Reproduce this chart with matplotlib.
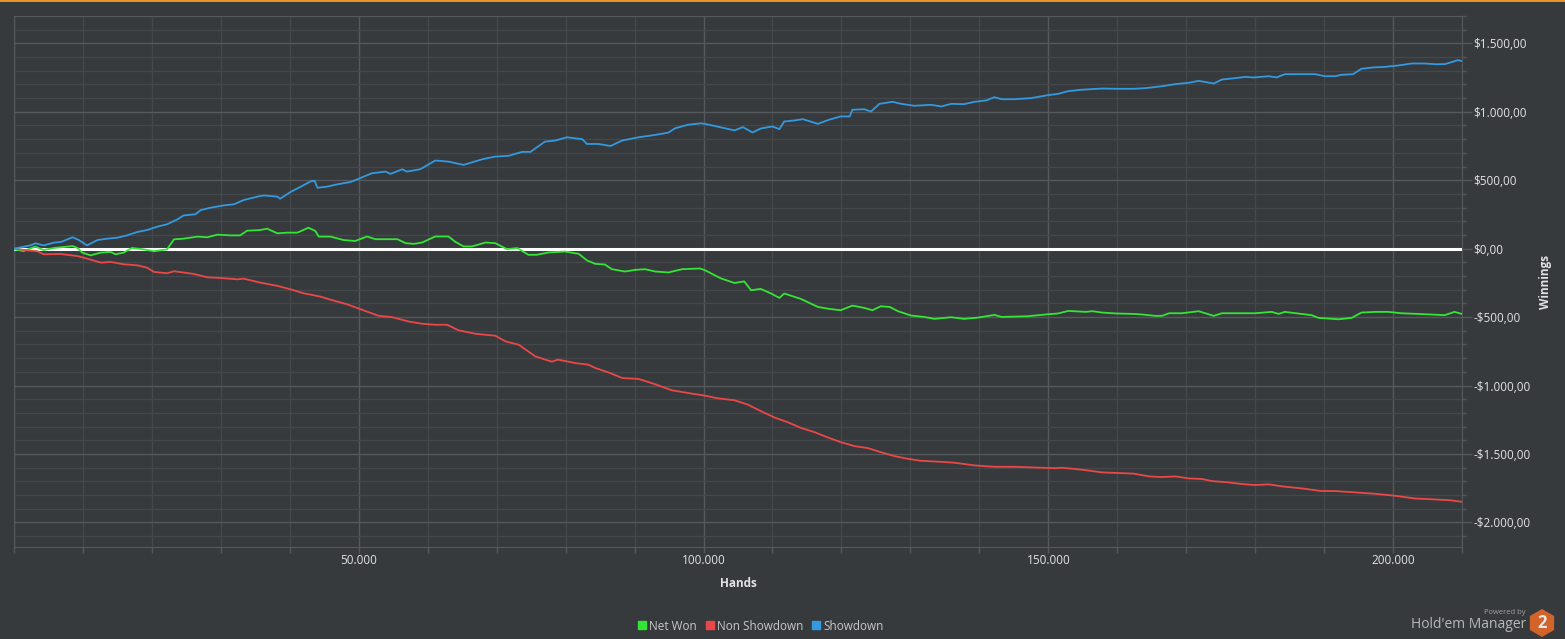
import numpy as np
import matplotlib.pyplot as plt
from matplotlib.ticker import FuncFormatter, MultipleLocator
from matplotlib.lines import Line2D
from matplotlib.patches import Rectangle, RegularPolygon

plt.rcParams['font.family'] = ['Open Sans', 'DejaVu Sans']

# values (hands, winnings in $)
showdown_hands = [0, 2400, 3100, 4300, 5800, 6800, 8500, 9400, 10600, 12100, 13500, 15000, 16400, 17900,
                  19300, 20800, 22200, 23700, 24600, 26300, 27100, 28500, 30400, 31900, 33300, 35300, 36200,
                  38200, 38600, 40100, 41600, 43000, 43600, 44000, 45400, 46900, 48800, 50200, 51000, 51900,
                  53900, 54600, 56300, 57000, 58900, 61100, 63000, 65200, 67900, 69800, 71700, 73700, 74900,
                  77000, 78500, 80200, 82400, 83100, 84800, 86500, 88200, 90600, 93000, 94900, 95900, 97800,
                  99700, 101500, 103000, 104500, 105700, 107100, 108300, 110000, 111000, 111700, 113200,
                  114400, 116600, 118200, 119900, 121200, 121600, 123300, 124300, 125500, 127400, 128700,
                  130600, 133000, 134500, 135900, 137800, 139300, 141000, 142200, 143200, 145100, 147500,
                  150000, 151400, 152900, 154800, 157800, 160000, 162400, 164100, 166500, 168400, 170400,
                  171800, 174000, 175200, 177100, 178600, 179800, 182000, 183100, 184300, 186800, 188700,
                  190100, 191600, 192500, 194200, 195400, 197100, 198800, 200700, 202700, 204600, 206000,
                  207500, 208400, 209400, 209900]
showdown = [0, 24, 39, 24, 44, 49, 83, 63, 24, 63, 73, 80, 97, 122,
            136, 161, 178, 214, 243, 251, 282, 299, 316, 324, 355, 380, 389,
            380, 365, 414, 453, 491, 496, 445, 453, 470, 487, 515, 532, 551,
            563, 546, 580, 563, 580, 644, 636, 612, 653, 673, 678, 707, 707,
            782, 790, 814, 800, 765, 765, 750, 790, 814, 831, 848, 880, 906,
            916, 898, 881, 864, 888, 849, 878, 893, 873, 929, 937,
            946, 912, 942, 966, 966, 1015, 1019, 1002, 1058, 1073, 1058,
            1044, 1051, 1039, 1058, 1056, 1073, 1083, 1107, 1092, 1092, 1100,
            1122, 1131, 1151, 1161, 1170, 1168, 1168, 1173, 1187, 1202, 1212,
            1226, 1207, 1236, 1246, 1255, 1251, 1260, 1251, 1275, 1275, 1275,
            1260, 1260, 1270, 1275, 1314, 1324, 1328, 1338, 1353, 1353, 1348,
            1348, 1362, 1377, 1372]

net_won_hands = [0, 1400, 3100, 4300, 5800, 8500, 9200, 9900, 11100, 12600, 14000, 14700, 15900, 17100,
                 18800, 20300, 22200, 23200, 24600, 26600, 28000, 29500, 31400, 32800, 33800, 35700, 36700,
                 38200, 39600, 41100, 42700, 43700, 44200, 45900, 47800, 49500, 51200, 52400, 53400, 55600,
                 56800, 58000, 59200, 61100, 63000, 64000, 65200, 66400, 68400, 69800, 71500, 73000, 74600,
                 75800, 77500, 79900, 81900, 83100, 84300, 85700, 86700, 88600, 90100, 91500, 93000, 94900,
                 96900, 99500, 100300, 101000, 102500, 104500, 105900, 106900, 108300, 109800, 111000,
                 111700, 114100, 116600, 118200, 119900, 121600, 123300, 124500, 125700, 127000, 128200,
                 130100, 132000, 133500, 135900, 137800, 139800, 142200, 143200, 147000, 150000, 151400,
                 152900, 155400, 156400, 157800, 160000, 162400, 163600, 165500, 166500, 167500, 169400,
                 171800, 174000, 175200, 177600, 180000, 182400, 183400, 184300, 186800, 188200, 189200,
                 190600, 192100, 194000, 195400, 197400, 199300, 201200, 203600, 205500, 207500, 208900,
                 210000]
net_won = [-5, -17, 15, -10, 5, 19, 5, -29, -49, -29, -24, -41, -29, 5,
           -5, -19, -5, 68, 73, 88, 83, 102, 97, 97, 131, 136, 146,
           112, 117, 117, 153, 129, 88, 88, 63, 56, 89, 69, 69, 69,
           40, 35, 45, 89, 89, 50, 16, 16, 45, 40, -4, 4, -45,
           -45, -28, -21, -38, -86, -111, -116, -150, -167, -155, -150, -167, -174,
           -150, -145, -160, -178, -217, -251, -239, -304, -294, -328, -360,
           -328, -367, -426, -440, -450, -416, -433, -450, -421, -426, -457,
           -489, -499, -513, -501, -513, -504, -484, -499, -494, -479, -474,
           -455, -462, -457, -467, -474, -477, -481, -491, -491, -472, -472,
           -457, -491, -472, -472, -472, -462, -477, -462, -477, -486, -506,
           -511, -516, -506, -467, -462, -462, -472, -477, -481, -486, -462,
           -477]

non_showdown_hands = [0, 1900, 3400, 4300, 6800, 9200, 10600, 12600, 14000, 15900, 17900, 19300, 20300,
                      22200, 23200, 26100, 28000, 29900, 32400, 33300, 35700, 38200, 40100, 42000, 44400,
                      46400, 48300, 50000, 52900, 54800, 57200, 59200, 61100, 62800, 64500, 66900, 69800,
                      71300, 73200, 75600, 78000, 78900, 81400, 83300, 84300, 86200, 88200, 90600, 93000,
                      95400, 97800, 100200, 102000, 104500, 106400, 108300, 110300, 112200, 114100, 116100,
                      118000, 119900, 121900, 123800, 125700, 127700, 129600, 131500, 133500, 136400, 139300,
                      142200, 145100, 148000, 150900, 152000, 154900, 157800, 160000, 162400, 164600, 166500,
                      168400, 170400, 172300, 173700, 176100, 178100, 180000, 182000, 183900, 186800, 189600,
                      191600, 194500, 197400, 200200, 203100, 205100, 207000, 208400, 209900]
non_showdown = [0, -12, -19, -41, -39, -54, -73, -102, -97, -114, -122, -139, -170,
                -180, -165, -185, -209, -214, -224, -219, -248, -272, -297, -326, -350,
                -380, -406, -438, -491, -500, -532, -549, -556, -556, -597, -622, -636,
                -678, -702, -787, -826, -811, -836, -848, -872, -904, -945, -952, -991,
                -1035, -1055, -1074, -1093, -1108, -1139, -1187, -1234, -1268, -1309, -1341,
                -1379, -1414, -1443, -1457, -1487, -1516, -1535, -1550, -1555, -1564, -1584,
                -1594, -1594, -1599, -1604, -1601, -1615, -1635, -1639, -1644, -1664, -1669,
                -1664, -1679, -1683, -1698, -1708, -1720, -1727, -1722, -1737, -1752, -1771,
                -1771, -1781, -1791, -1805, -1825, -1830, -1835, -1839, -1849]

series_names = ['Net Won', 'Non Showdown', 'Showdown']
series_colors = ['#33e633', '#ea4848', '#3399e0']

bg = '#373a3d'
text_col = '#e2e2e2'
minor_grid = '#45484b'
major_grid = '#56595c'


def money_formatter(v, pos):
    s = '{:,.2f}'.format(abs(v))
    s = s.replace(',', 'X').replace('.', ',').replace('X', '.')
    return ('-' if v < -0.5 else '') + '$' + s


def hands_formatter(v, pos):
    if abs(v) < 1:
        return ''
    return '{:,.0f}'.format(v).replace(',', '.')


fig = plt.figure(figsize=(15.65, 6.39), dpi=100, facecolor=bg)
ax = fig.add_axes([14 / 1565, 1 - 547 / 639, (1462 - 14) / 1565, (547 - 16) / 639])
ax.set_facecolor(bg)

ax.plot(net_won_hands, net_won, color=series_colors[0], lw=1.3, zorder=4)
ax.plot(non_showdown_hands, non_showdown, color=series_colors[1], lw=1.3, zorder=4)
ax.plot(showdown_hands, showdown, color=series_colors[2], lw=1.3, zorder=4)
ax.axhline(0, color='white', lw=2.2, zorder=3)

ax.set_xlim(0, 210000)
ax.set_ylim(-2180, 1700)

ax.xaxis.set_major_locator(MultipleLocator(50000))
ax.xaxis.set_minor_locator(MultipleLocator(10000))
ax.yaxis.set_major_locator(MultipleLocator(500))
ax.yaxis.set_minor_locator(MultipleLocator(100))
ax.xaxis.set_major_formatter(FuncFormatter(hands_formatter))
ax.yaxis.set_major_formatter(FuncFormatter(money_formatter))

ax.grid(which='minor', color=minor_grid, lw=1, zorder=0)
ax.grid(which='major', color=major_grid, lw=1, zorder=0)
ax.set_axisbelow(True)

ax.yaxis.tick_right()
ax.yaxis.set_label_position('right')
ax.tick_params(axis='y', which='major', length=7, width=1, color=major_grid, pad=1,
               labelcolor=text_col, labelsize=8.5)
ax.tick_params(axis='y', which='minor', length=3, width=1, color=major_grid)
ax.tick_params(axis='x', which='both', length=4, width=1, color=major_grid, pad=1,
               labelcolor=text_col, labelsize=8.5)

for sp in ax.spines.values():
    sp.set_color(major_grid)

ax.set_xlabel('Hands', fontsize=8.5, fontweight='bold', color=text_col, labelpad=7)
ax.set_ylabel('Winnings', fontsize=8.5, fontweight='bold', color=text_col, labelpad=6)

handles = [Line2D([], [], marker='s', ls='', color=c, markersize=5.5) for c in series_colors]
fig.legend(handles, series_names, loc='center', bbox_to_anchor=(760 / 1565, 1 - 626 / 639),
           ncol=3, frameon=False, fontsize=8.5, labelcolor='#c8c8c8', handletextpad=0.1,
           columnspacing=0.6, handlelength=1.0)

# orange strip on top
fig.add_artist(Rectangle((0, 1 - 2 / 639), 1, 2 / 639, transform=fig.transFigure,
                         color='#e8922a', lw=0))

# logo
fig.text(1526 / 1565, 1 - 613 / 639, 'Powered by', fontsize=5.5, color='#a0a0a0',
         ha='right', va='center')
fig.text(1526 / 1565, 1 - 624 / 639, "Hold'em Manager", fontsize=10, color='#b8b8b8',
         ha='right', va='center')
fig.add_artist(RegularPolygon((15.42, (639 - 623) / 100), numVertices=6, radius=0.14,
                              transform=fig.dpi_scale_trans, color='#d2642a', lw=0))
fig.text(1542 / 1565, 1 - 623 / 639, '2', fontsize=12, fontweight='bold', color='#e6e6e6',
         ha='center', va='center')

plt.savefig('out.png', dpi=100, facecolor=bg)
